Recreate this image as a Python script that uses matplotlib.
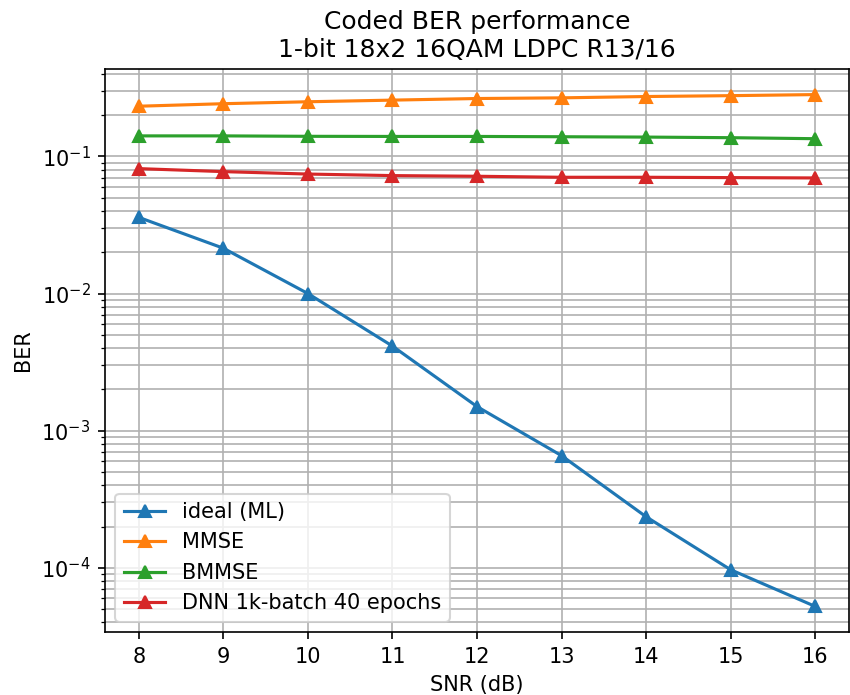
import matplotlib
matplotlib.use("Agg")
import matplotlib.pyplot as plt

# データ
snr = [8, 9, 10, 11, 12, 13, 14, 15, 16]
ber_ml = [0.0359, 0.0214, 0.0100, 0.00414, 0.00150, 0.000658, 0.000236, 9.7e-5, 5.24e-5]
ber_mmse = [0.232, 0.242, 0.250, 0.257, 0.264, 0.267, 0.273, 0.277, 0.282]
ber_bmmse = [0.141, 0.141, 0.140, 0.1397, 0.1397, 0.1390, 0.1382, 0.1368, 0.1345]
ber_dnn = [0.0814, 0.0774, 0.0743, 0.0724, 0.0716, 0.0704, 0.0704, 0.0700, 0.0696]

fig = plt.figure(figsize=(851/150, 695/150), dpi=150)
ax = fig.add_subplot(111)
fig.subplots_adjust(left=105/851, right=849/851, top=1-69/695, bottom=1-632/695)

ax.semilogy(snr, ber_ml, marker='^', label='ideal (ML)')
ax.semilogy(snr, ber_mmse, marker='^', label='MMSE')
ax.semilogy(snr, ber_bmmse, marker='^', label='BMMSE')
ax.semilogy(snr, ber_dnn, marker='^', label='DNN 1k-batch 40 epochs')

ax.grid(True, which='both')
ax.set_xlabel('SNR (dB)')
ax.set_ylabel('BER')
ax.set_title('Coded BER performance\n1-bit 18x2 16QAM LDPC R13/16')
ax.legend(loc='lower left')

fig.savefig('out.png', dpi=150)
